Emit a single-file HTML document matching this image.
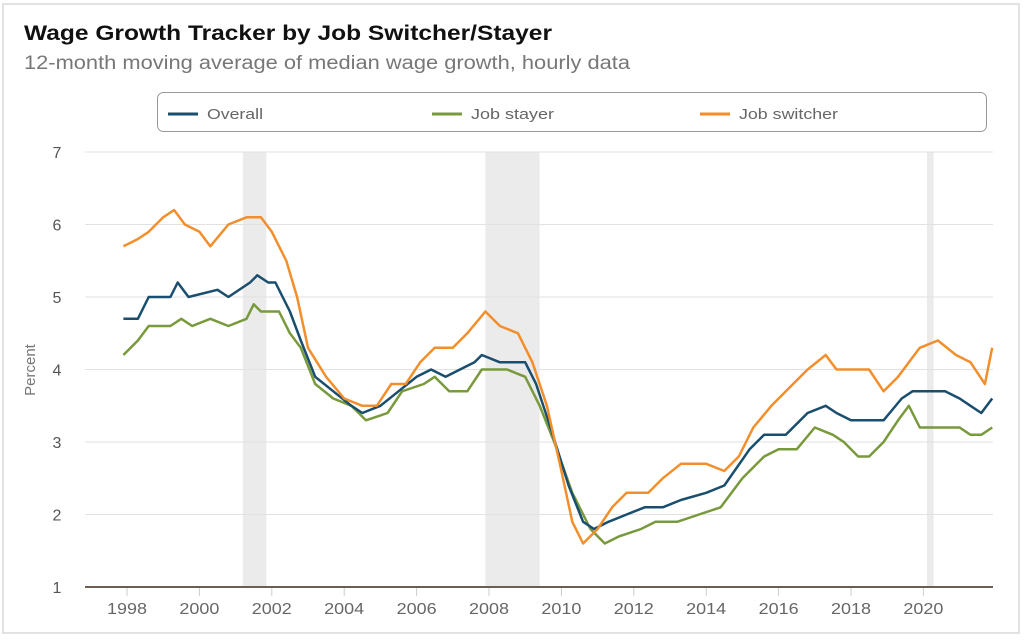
<!DOCTYPE html>
<html><head><meta charset="utf-8"><style>
body{margin:0;background:#fff;font-family:"Liberation Sans",sans-serif}
</style></head><body>
<svg id="s" width="1024" height="638" xmlns="http://www.w3.org/2000/svg" font-family="Liberation Sans, sans-serif">
<rect x="3" y="4" width="1016" height="629" fill="#fff" stroke="#d8d8d8" stroke-width="1.5"/>
<text x="24" y="40" font-size="21" font-weight="bold" fill="#111" textLength="528" lengthAdjust="spacingAndGlyphs">Wage Growth Tracker by Job Switcher/Stayer</text>
<text x="24" y="69" font-size="19" fill="#777" textLength="606" lengthAdjust="spacingAndGlyphs">12-month moving average of median wage growth, hourly data</text>
<rect x="157.5" y="92.5" width="829" height="39" rx="6" fill="#fff" stroke="#999"/>
<line x1="168" y1="114" x2="198" y2="114" stroke="#1a4e6e" stroke-width="3"/>
<text x="207" y="119" font-size="15" fill="#666" textLength="56" lengthAdjust="spacingAndGlyphs">Overall</text>
<line x1="432" y1="114" x2="462" y2="114" stroke="#78993c" stroke-width="3"/>
<text x="471" y="119" font-size="15" fill="#666" textLength="83" lengthAdjust="spacingAndGlyphs">Job stayer</text>
<line x1="700" y1="114" x2="730" y2="114" stroke="#f28f2c" stroke-width="3"/>
<text x="739" y="119" font-size="15" fill="#666" textLength="99" lengthAdjust="spacingAndGlyphs">Job switcher</text>
<g id="g"></g>
</svg>
<script>
const X=y=>127+(y-1998)*36.2, Y=v=>587-(v-1)*72.5;
let h='';
[[2001.2,2001.85],[2007.9,2009.4],[2020.1,2020.28]].forEach(r=>h+=`<rect x="${X(r[0])}" y="152" width="${X(r[1])-X(r[0])}" height="435" fill="#ebebeb"/>`);
for(let v=2;v<=7;v++)h+=`<line x1="85" x2="993" y1="${Y(v)}" y2="${Y(v)}" stroke="#e2e2e2"/>`;
for(let v=1;v<=7;v++)h+=`<text x="57" y="${Y(v)+6}" font-size="16" fill="#555" text-anchor="middle">${v}</text>`;
for(let yr=1998;yr<=2020;yr+=2){h+=`<line x1="${X(yr)}" x2="${X(yr)}" y1="587" y2="596" stroke="#ccc"/><text x="${X(yr)}" y="614" font-size="16" fill="#666" text-anchor="middle" textLength="40" lengthAdjust="spacingAndGlyphs">${yr}</text>`;}
h+=`<text transform="translate(35,370) rotate(-90)" font-size="15" fill="#777" text-anchor="middle">Percent</text>`;
const S={
o:[1997.9,4.7,1998.3,4.7,1998.6,5.0,1999.2,5.0,1999.4,5.2,1999.7,5.0,2000.5,5.1,2000.8,5.0,2001.4,5.2,2001.6,5.3,2001.9,5.2,2002.1,5.2,2002.5,4.8,2002.8,4.4,2003.2,3.9,2003.7,3.7,2004.2,3.5,2004.5,3.4,2005.0,3.5,2005.5,3.7,2006.0,3.9,2006.4,4.0,2006.8,3.9,2007.2,4.0,2007.6,4.1,2007.8,4.2,2008.3,4.1,2009.0,4.1,2009.3,3.8,2009.7,3.2,2010.2,2.4,2010.6,1.9,2010.9,1.8,2011.3,1.9,2011.8,2.0,2012.3,2.1,2012.8,2.1,2013.3,2.2,2014.0,2.3,2014.5,2.4,2015.2,2.9,2015.6,3.1,2016.2,3.1,2016.8,3.4,2017.3,3.5,2017.6,3.4,2018.0,3.3,2018.5,3.3,2018.9,3.3,2019.4,3.6,2019.7,3.7,2020.2,3.7,2020.6,3.7,2021.0,3.6,2021.3,3.5,2021.6,3.4,2021.9,3.6],
s:[1997.9,4.2,1998.3,4.4,1998.6,4.6,1999.2,4.6,1999.5,4.7,1999.8,4.6,2000.3,4.7,2000.8,4.6,2001.3,4.7,2001.5,4.9,2001.7,4.8,2002.2,4.8,2002.5,4.5,2002.8,4.3,2003.2,3.8,2003.7,3.6,2004.2,3.5,2004.6,3.3,2005.2,3.4,2005.6,3.7,2006.2,3.8,2006.5,3.9,2006.9,3.7,2007.4,3.7,2007.8,4.0,2008.5,4.0,2009.0,3.9,2009.4,3.5,2009.8,3.0,2010.3,2.3,2010.8,1.8,2011.2,1.6,2011.6,1.7,2012.2,1.8,2012.6,1.9,2013.2,1.9,2013.8,2.0,2014.4,2.1,2015.0,2.5,2015.6,2.8,2016.0,2.9,2016.5,2.9,2017.0,3.2,2017.5,3.1,2017.8,3.0,2018.2,2.8,2018.5,2.8,2018.9,3.0,2019.3,3.3,2019.6,3.5,2019.9,3.2,2020.3,3.2,2021.0,3.2,2021.3,3.1,2021.6,3.1,2021.9,3.2],
w:[1997.9,5.7,1998.3,5.8,1998.6,5.9,1999.0,6.1,1999.3,6.2,1999.6,6.0,2000.0,5.9,2000.3,5.7,2000.8,6.0,2001.3,6.1,2001.7,6.1,2002.0,5.9,2002.4,5.5,2002.7,5.0,2003.0,4.3,2003.5,3.9,2004.0,3.6,2004.5,3.5,2004.9,3.5,2005.3,3.8,2005.7,3.8,2006.1,4.1,2006.5,4.3,2007.0,4.3,2007.4,4.5,2007.9,4.8,2008.3,4.6,2008.8,4.5,2009.2,4.1,2009.6,3.5,2010.0,2.6,2010.3,1.9,2010.6,1.6,2011.0,1.8,2011.4,2.1,2011.8,2.3,2012.4,2.3,2012.8,2.5,2013.3,2.7,2014.0,2.7,2014.5,2.6,2014.9,2.8,2015.3,3.2,2015.8,3.5,2016.4,3.8,2016.8,4.0,2017.3,4.2,2017.6,4.0,2018.5,4.0,2018.9,3.7,2019.3,3.9,2019.6,4.1,2019.9,4.3,2020.4,4.4,2020.9,4.2,2021.3,4.1,2021.7,3.8,2021.9,4.3]};
const C={s:'#78993c',o:'#1a4e6e',w:'#f28f2c'};
['s','o','w'].forEach(k=>{let a=S[k],p=[];for(let i=0;i<a.length;i+=2)p.push(X(a[i]).toFixed(1)+','+Y(a[i+1]).toFixed(1));h+=`<polyline points="${p.join(' ')}" fill="none" stroke="${C[k]}" stroke-width="2.5" stroke-linejoin="round"/>`;});
h+=`<line x1="85" x2="993" y1="587" y2="587" stroke="#6b5f52" stroke-width="2"/>`;
document.getElementById('g').innerHTML=h;
</script>
</body></html>
